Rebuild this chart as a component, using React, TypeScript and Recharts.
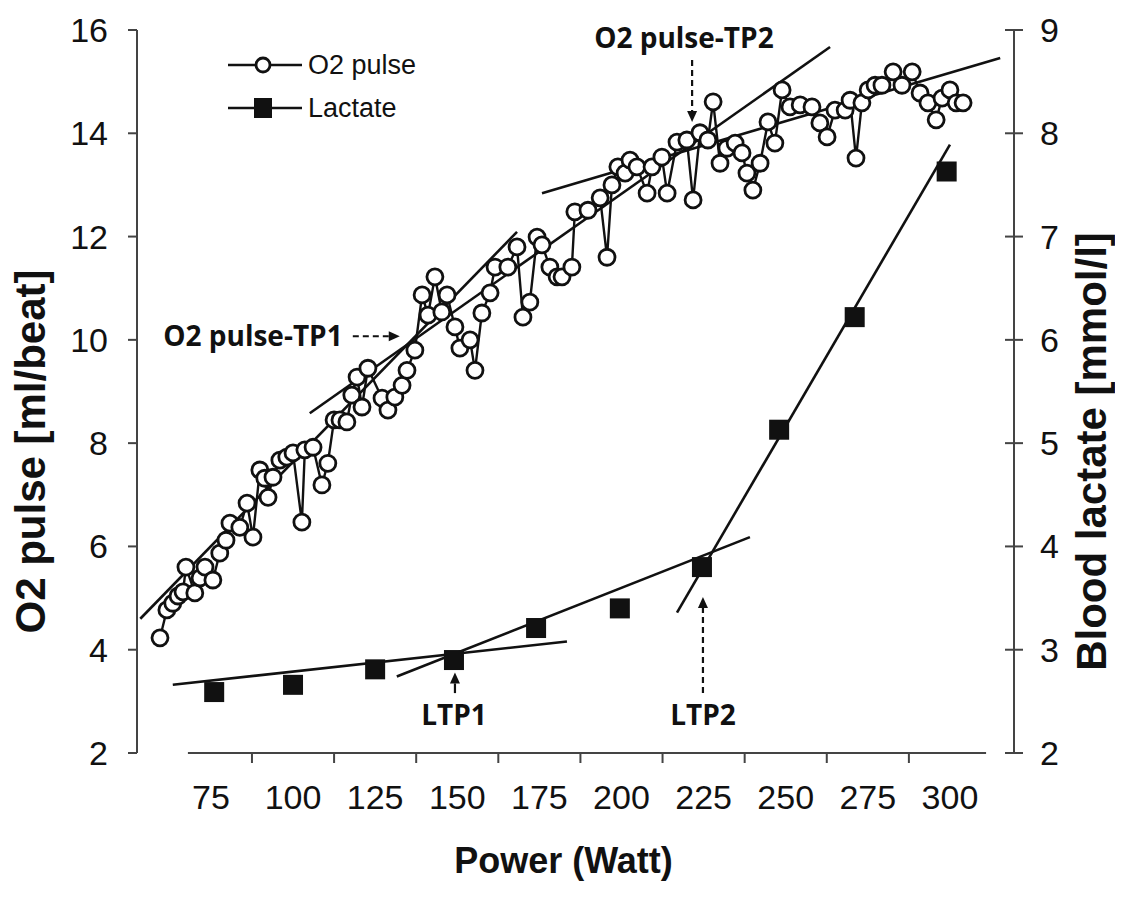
import React from "react";
import {
  ComposedChart,
  Line,
  XAxis,
  YAxis,
  ReferenceLine,
  ReferenceDot,
  Legend,
} from "recharts";

// x axis
const powerTicks = [75, 100, 125, 150, 175, 200, 225, 250, 275, 300];
const powerMinorTicks = [87.5, 112.5, 137.5, 162.5, 187.5, 212.5, 237.5, 262.5, 287.5];
const powerAxisSpan = [68, 311];
const o2Ticks = [2, 4, 6, 8, 10, 12, 14, 16];
const lactateTicks = [2, 3, 4, 5, 6, 7, 8, 9];

// O2 pulse, breath by breath
const o2Power = [
  59.5, 61.6, 63.4, 65.0, 66.5, 67.4, 70.1, 71.7, 73.2, 75.6,
  77.7, 79.6, 80.8, 83.8, 86.0, 87.8, 89.9, 91.4, 92.4, 93.9,
  96.0, 98.1, 100.0, 102.7, 103.6, 106.1, 108.8, 110.6, 112.5, 114.3,
  116.4, 117.9, 119.5, 121.0, 122.8, 127.1, 128.9, 131.0, 133.2, 134.7,
  137.1, 139.3, 141.1, 143.2, 145.3, 146.9, 149.3, 150.8, 153.9, 155.4,
  157.5, 160.0, 161.5, 165.4, 168.2, 170.0, 172.1, 174.3, 175.8, 178.2,
  180.4, 181.9, 184.9, 185.8, 189.8, 193.5, 195.6, 197.1, 198.9, 201.1,
  202.6, 204.7, 207.8, 209.3, 212.3, 213.9, 216.9, 219.9, 221.8, 223.9,
  226.3, 227.9, 230.0, 232.1, 234.6, 236.7, 238.2, 240.0, 242.2, 244.6,
  246.7, 248.9, 251.3, 254.4, 258.0, 260.4, 262.6, 265.0, 268.1, 269.6,
  271.4, 273.2, 275.1, 277.2, 279.3, 282.7, 285.4, 288.5, 290.9, 293.3,
  295.8, 297.6, 300.0, 301.9, 304.0,
];
const o2Pulse = [
  4.23, 4.77, 4.9, 5.04, 5.12, 5.6, 5.1, 5.39, 5.6, 5.35,
  5.87, 6.12, 6.45, 6.37, 6.84, 6.18, 7.48, 7.32, 6.95, 7.34,
  7.67, 7.73, 7.81, 6.47, 7.87, 7.92, 7.19, 7.61, 8.45, 8.45,
  8.41, 8.93, 9.28, 8.7, 9.45, 8.87, 8.64, 8.89, 9.12, 9.41,
  9.8, 10.87, 10.48, 11.22, 10.54, 10.87, 10.25, 9.84, 10.0, 9.41,
  10.52, 10.91, 11.41, 11.41, 11.8, 10.44, 10.73, 11.99, 11.84, 11.41,
  11.22, 11.22, 11.41, 12.48, 12.51, 12.75, 11.6, 13.0, 13.35, 13.23,
  13.48, 13.35, 12.84, 13.35, 13.54, 12.84, 13.83, 13.87, 12.71, 14.01,
  13.87, 14.61, 13.42, 13.71, 13.81, 13.62, 13.23, 12.9, 13.42, 14.22,
  13.81, 14.84, 14.51, 14.55, 14.51, 14.2, 13.93, 14.45, 14.45, 14.64,
  13.52, 14.59, 14.84, 14.93, 14.93, 15.19, 14.93, 15.19, 14.78, 14.59,
  14.26, 14.68, 14.84, 14.59, 14.59,
];

// blood lactate, one sample per step
const lactatePower = [76, 100, 125, 149, 174, 199.5, 224.5, 248, 271, 299];
const lactateValues = [2.59, 2.66, 2.81, 2.9, 3.21, 3.4, 3.8, 5.13, 6.22, 7.63];

// regression lines (end points)
const o2FitPower1 = [53.5, 168.2];
const o2Fit1 = [4.6, 12.09];
const o2FitPower2 = [105.1, 263.5];
const o2Fit2 = [8.58, 15.67];
const o2FitPower3 = [175.8, 315.3];
const o2Fit3 = [12.84, 15.46];
const lacFitPower1 = [63.4, 183.4];
const lacFit1 = [2.66, 3.08];
const lacFitPower2 = [131.6, 239.1];
const lacFit2 = [2.74, 4.09];
const lacFitPower3 = [216.9, 300.0];
const lacFit3 = [3.36, 7.89];

const legendOrder = ["O2 pulse", "Lactate"];

const FONT = "'Liberation Sans', Arial, Helvetica, sans-serif";
const NOTE_FONT = "'Open Sans', 'Liberation Sans', Arial, sans-serif";
const INK = "#111";
const AXIS = "#444";

const o2Data = o2Power.map((p, i) => ({ power: p, o2: o2Pulse[i] }));
const lactateData = lactatePower.map((p, i) => ({ power: p, lactate: lactateValues[i] }));
const pairs = (xs: number[], ys: number[], key: string) =>
  xs.map((x, i) => ({ power: x, [key]: ys[i] }));

const o2Fits = [
  pairs(o2FitPower1, o2Fit1, "o2"),
  pairs(o2FitPower2, o2Fit2, "o2"),
  pairs(o2FitPower3, o2Fit3, "o2"),
];
const lacFits = [
  pairs(lacFitPower1, lacFit1, "lactate"),
  pairs(lacFitPower2, lacFit2, "lactate"),
  pairs(lacFitPower3, lacFit3, "lactate"),
];

const Square = (props: any) => {
  const { cx, cy, index } = props;
  if (cx == null || cy == null) return <g key={index} />;
  return <rect key={index} x={cx - 10} y={cy - 10} width={20} height={20} fill={INK} />;
};

const arrow = (dashed: boolean) => (props: any) => {
  const { x1, y1, x2, y2 } = props;
  const a = Math.atan2(y2 - y1, x2 - x1);
  const len = 11;
  const half = 5;
  const bx = x2 - len * Math.cos(a);
  const by = y2 - len * Math.sin(a);
  const pts = [
    [x2, y2],
    [bx + half * Math.sin(a), by - half * Math.cos(a)],
    [bx - half * Math.sin(a), by + half * Math.cos(a)],
  ]
    .map((p) => p.join(","))
    .join(" ");
  return (
    <g>
      <line x1={x1} y1={y1} x2={bx} y2={by} stroke={INK} strokeWidth={2.2} strokeDasharray={dashed ? "6 4" : undefined} />
      <polygon points={pts} fill={INK} />
    </g>
  );
};

// labels at 75, 100, ...; short marks half way between them
const XTick = (props: any) => {
  const { x, y, payload } = props;
  if (powerMinorTicks.includes(payload.value)) {
    return <line x1={x} x2={x} y1={y - 32} y2={y - 22} stroke={AXIS} strokeWidth={2} />;
  }
  return (
    <text x={x} y={y} dy="0.71em" textAnchor="middle" fontSize={34} fontFamily={FONT} fill={INK}>
      {payload.value}
    </text>
  );
};

const RightTick = (props: any) => {
  const { x, y, payload } = props;
  return (
    <g>
      <line x1={x - 35} x2={x - 17} y1={y} y2={y} stroke={AXIS} strokeWidth={2} />
      <text x={x} y={y} dy="0.355em" textAnchor="start" fontSize={34} fontFamily={FONT} fill={INK}>
        {payload.value}
      </text>
    </g>
  );
};

const renderLegend = (props: any) => {
  const items = (props.payload || [])
    .filter((e: any) => legendOrder.includes(e.value))
    .sort((a: any, b: any) => legendOrder.indexOf(a.value) - legendOrder.indexOf(b.value));
  return (
    <svg width={220} height={90}>
      {items.map((e: any, i: number) => {
        const y = 17 + i * 43;
        return (
          <g key={e.value}>
            <line x1={8} x2={82} y1={y} y2={y} stroke={INK} strokeWidth={2.5} />
            {e.value === "O2 pulse" ? (
              <circle cx={43} cy={y} r={7} fill="#fff" stroke={INK} strokeWidth={2.8} />
            ) : (
              <rect x={34} y={y - 10} width={18} height={20} fill={INK} />
            )}
            <text x={88} y={y} dy="0.35em" fontSize={27} fontFamily={FONT} fill={INK}>
              {e.value}
            </text>
          </g>
        );
      })}
    </svg>
  );
};

const noteLabel = (value: string) => ({
  value,
  position: "center" as const,
  fontSize: 28,
  fontWeight: 700,
  fontFamily: NOTE_FONT,
  fill: INK,
});

const axisTitle = (text: string, dx: number) => ({ viewBox }: any) => {
  const cx = viewBox.x + dx;
  const cy = viewBox.y + viewBox.height / 2 + 60;
  return (
    <text
      x={cx}
      y={cy}
      transform={`rotate(-90, ${cx}, ${cy})`}
      textAnchor="middle"
      dominantBaseline="central"
      fontSize={42}
      fontWeight={700}
      fontFamily={FONT}
      fill={INK}
    >
      {text}
    </text>
  );
};

export default function App() {
  return (
    <div style={{ width: 1115, height: 893 }}>
      <ComposedChart width={1115} height={893} margin={{ top: 22, right: 0, bottom: 0, left: 0 }}>
        <XAxis
          xAxisId="main"
          type="number"
          dataKey="power"
          domain={[52.5, 319.5]}
          ticks={[...powerTicks, ...powerMinorTicks]}
          interval={0}
          tickLine={false}
          axisLine={false}
          tickSize={0}
          tickMargin={32}
          height={148}
          allowDataOverflow
          tick={XTick}
          label={{
            content: ({ viewBox }: any) => (
              <text
                x={viewBox.x + viewBox.width / 2 - 12}
                y={viewBox.y + 107}
                textAnchor="middle"
                dominantBaseline="central"
                fontSize={36}
                fontWeight={700}
                fontFamily={FONT}
                fill={INK}
              >
                Power (Watt)
              </text>
            ),
          }}
        />
        <YAxis
          yAxisId="left"
          type="number"
          domain={[2, 16]}
          ticks={o2Ticks}
          interval={0}
          width={129}
          tickSize={9}
          tickMargin={20}
          tickLine={{ stroke: AXIS, strokeWidth: 2 }}
          axisLine={{ stroke: AXIS, strokeWidth: 2 }}
          tick={{ fontSize: 34, fill: INK, fontFamily: FONT }}
          label={{ content: axisTitle("O2 pulse [ml/beat]", 22) }}
        />
        <YAxis
          yAxisId="right"
          orientation="right"
          type="number"
          domain={[2, 9]}
          ticks={lactateTicks}
          interval={0}
          width={109}
          tickSize={9}
          tickMargin={17}
          tickLine={false}
          axisLine={{ stroke: AXIS, strokeWidth: 2 }}
          tick={RightTick}
          label={{ content: axisTitle("Blood lactate [mmol/l]", 77) }}
        />

        <ReferenceLine
          xAxisId="main"
          yAxisId="left"
          segment={[
            { x: powerAxisSpan[0], y: 2 },
            { x: powerAxisSpan[1], y: 2 },
          ]}
          stroke={AXIS}
          strokeWidth={2}
        />

        <Legend
          layout="vertical"
          align="center"
          verticalAlign="middle"
          wrapperStyle={{ left: 212, top: 40, width: 220, height: 90 }}
          content={renderLegend}
        />

        <Line
          xAxisId="main"
          yAxisId="left"
          data={o2Data}
          dataKey="o2"
          name="O2 pulse"
          type="linear"
          stroke={INK}
          strokeWidth={2.4}
          dot={{ r: 8, fill: "#fff", stroke: INK, strokeWidth: 2.8 }}
          activeDot={false}
          isAnimationActive={false}
        />
        <Line
          xAxisId="main"
          yAxisId="right"
          data={lactateData}
          dataKey="lactate"
          name="Lactate"
          type="linear"
          stroke="none"
          dot={Square}
          activeDot={false}
          isAnimationActive={false}
        />
        {o2Fits.map((d, i) => (
          <Line
            key={"o2fit" + i}
            xAxisId="main"
            yAxisId="left"
            data={d}
            dataKey="o2"
            name={"o2fit" + i}
            legendType="none"
            type="linear"
            stroke={INK}
            strokeWidth={2.6}
            dot={false}
            activeDot={false}
            isAnimationActive={false}
          />
        ))}
        {lacFits.map((d, i) => (
          <Line
            key={"lacfit" + i}
            xAxisId="main"
            yAxisId="right"
            data={d}
            dataKey="lactate"
            name={"lacfit" + i}
            legendType="none"
            type="linear"
            stroke={INK}
            strokeWidth={2.6}
            dot={false}
            activeDot={false}
            isAnimationActive={false}
          />
        ))}

        {/* threshold arrows */}
        <ReferenceLine
          xAxisId="main"
          yAxisId="left"
          segment={[
            { x: 221.5, y: 15.42 },
            { x: 221.5, y: 14.22 },
          ]}
          shape={arrow(true)}
        />
        <ReferenceLine
          xAxisId="main"
          yAxisId="left"
          segment={[
            { x: 118.2, y: 10.07 },
            { x: 132.5, y: 10.07 },
          ]}
          shape={arrow(true)}
        />
        <ReferenceLine
          xAxisId="main"
          yAxisId="right"
          segment={[
            { x: 149.3, y: 2.58 },
            { x: 149.3, y: 2.78 },
          ]}
          shape={arrow(false)}
        />
        <ReferenceLine
          xAxisId="main"
          yAxisId="right"
          segment={[
            { x: 224.8, y: 2.58 },
            { x: 224.8, y: 3.51 },
          ]}
          shape={arrow(true)}
        />

        <ReferenceDot xAxisId="main" yAxisId="left" x={219} y={15.85} r={0} fill="none" stroke="none" label={noteLabel("O2 pulse-TP2")} />
        <ReferenceDot xAxisId="main" yAxisId="left" x={87.8} y={10.07} r={0} fill="none" stroke="none" label={noteLabel("O2 pulse-TP1")} />
        <ReferenceDot xAxisId="main" yAxisId="right" x={149} y={2.37} r={0} fill="none" stroke="none" label={noteLabel("LTP1")} />
        <ReferenceDot xAxisId="main" yAxisId="right" x={224.8} y={2.37} r={0} fill="none" stroke="none" label={noteLabel("LTP2")} />
      </ComposedChart>
    </div>
  );
}
